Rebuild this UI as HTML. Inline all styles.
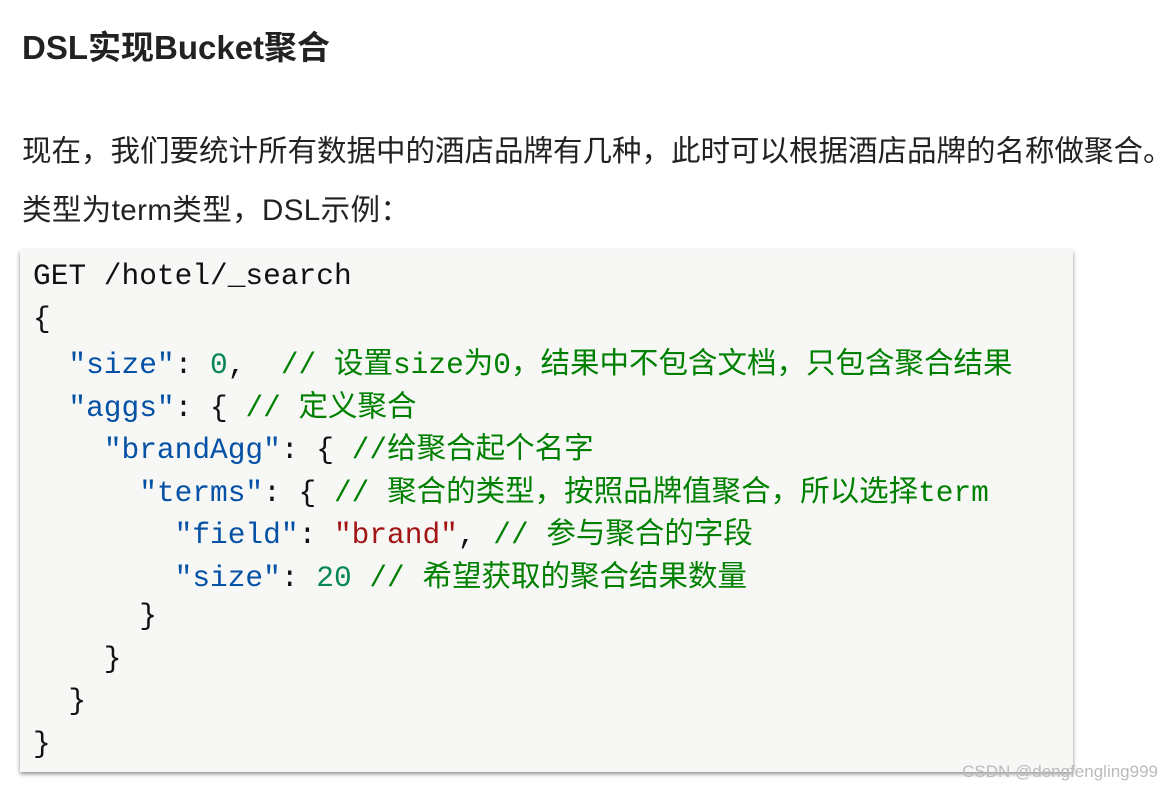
<!DOCTYPE html>
<html><head><meta charset="utf-8"><style>
body{margin:0;width:1174px;height:794px;background:#fff;position:relative;overflow:hidden;font-family:"Liberation Sans","Noto Sans CJK SC",sans-serif;color:#222}
.t{position:absolute;left:22px;top:26px;font-size:33px;font-weight:bold;color:#222;line-height:44px}
.p{position:absolute;left:22px;font-size:29.5px;color:#222;line-height:40px;white-space:nowrap}
.code{position:absolute;left:20px;top:250px;width:1053px;height:522px;background:#f7f8f5;box-shadow:0 2px 4px rgba(0,0,0,.45)}
.l{position:absolute;left:33px;font-family:"Liberation Mono","Noto Sans CJK SC",monospace;font-size:29.5px;white-space:pre;color:#111;line-height:36px}
.k{color:#0451a5}.n{color:#098658}.c{color:#008000}.s{color:#a31515}
.z{font-family:"Noto Sans CJK SC",sans-serif;font-size:29.5px}
.wm{position:absolute;right:16px;top:762px;font-size:17px;color:#bbb}
</style></head><body>
<div class="t">DSL实现Bucket聚合</div>
<div class="p" style="top:132px">现在，我们要统计所有数据中的酒店品牌有几种，此时可以根据酒店品牌的名称做聚合。</div>
<div class="p" style="top:191px;letter-spacing:0.4px">类型为term类型，DSL示例：</div>
<div class="code"></div>
<div class="l" style="top:258px">GET /hotel/_search</div>
<div class="l" style="top:301px">{</div>
<div class="l" style="top:343px">  <span class="k">"size"</span>: <span class="n">0</span>,  <span class="c">// <span class="z">设置</span>size<span class="z">为</span>0<span class="z">，结果中不包含文档，只包含聚合结果</span></span></div>
<div class="l" style="top:386px">  <span class="k">"aggs"</span>: { <span class="c">// <span class="z">定义聚合</span></span></div>
<div class="l" style="top:428px">    <span class="k">"brandAgg"</span>: { <span class="c">//<span class="z">给聚合起个名字</span></span></div>
<div class="l" style="top:471px">      <span class="k">"terms"</span>: { <span class="c">// <span class="z">聚合的类型，按照品牌值聚合，所以选择</span>term</span></div>
<div class="l" style="top:513px">        <span class="k">"field"</span>: <span class="s">"brand"</span>, <span class="c">// <span class="z">参与聚合的字段</span></span></div>
<div class="l" style="top:556px">        <span class="k">"size"</span>: <span class="n">20</span> <span class="c">// <span class="z">希望获取的聚合结果数量</span></span></div>
<div class="l" style="top:598px">      }</div>
<div class="l" style="top:641px">    }</div>
<div class="l" style="top:683px">  }</div>
<div class="l" style="top:726px">}</div>
<div class="wm">CSDN @dengfengling999</div>
</body></html>
